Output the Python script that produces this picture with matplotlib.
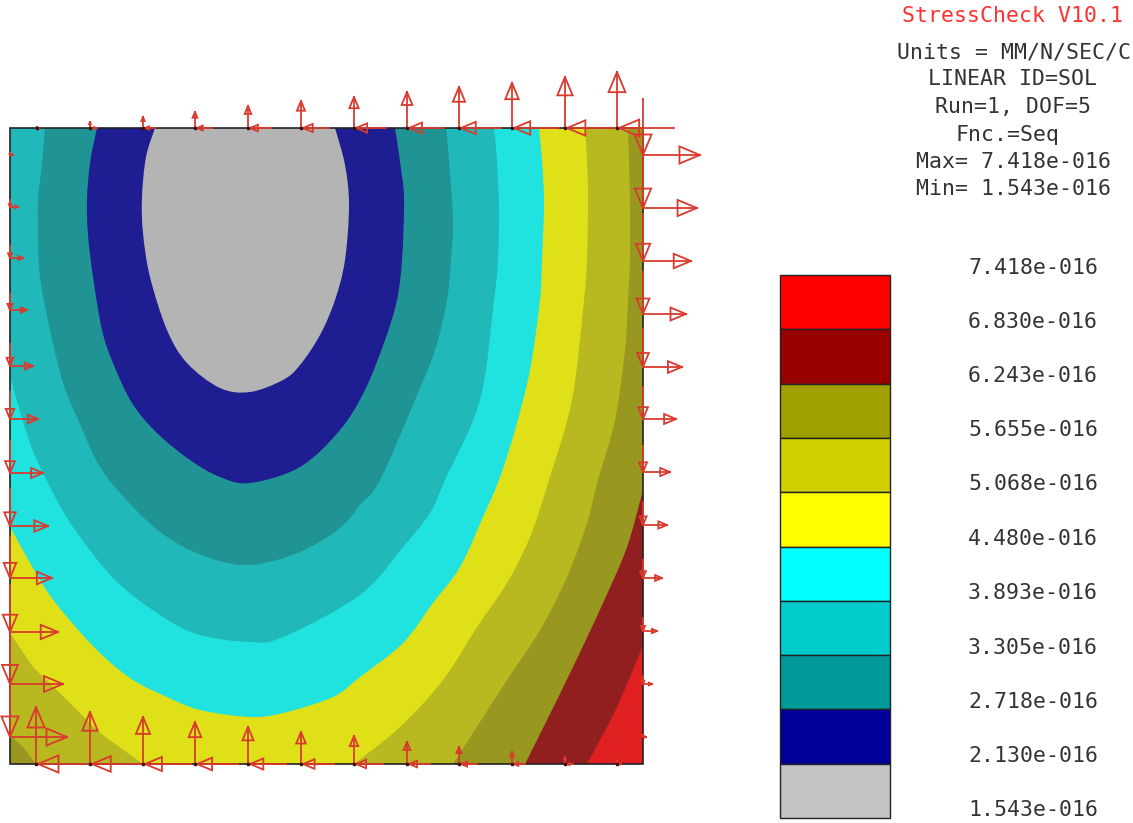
from matplotlib import pyplot as plt
from matplotlib.patches import PathPatch, Rectangle
from matplotlib.path import Path

# plate outline, in picture pixels
plate_x = [10, 643, 643, 10]
plate_y = [128, 128, 764, 764]

# contour lines, each band is the curve plus the plate corners it wraps round
red_x = [643, 617, 587]
red_y = [645, 707, 764]
darkred_x = [643, 627, 603, 573, 547, 525]
darkred_y = [490, 547, 603, 667, 720, 764]
olive2_x = [628, 630, 630, 628, 625, 615, 598, 587, 567, 540, 507, 480, 453]
olive2_y = [128, 200, 260, 300, 350, 420, 480, 523, 577, 630, 680, 722, 764]
olive2_corner_x = [36, 23, 10]
olive2_corner_y = [764, 747, 735]
olive1_x = [585, 587, 588, 587, 584, 572, 549, 530, 507, 477, 443, 400, 354]
olive1_y = [128, 160, 200, 260, 300, 400, 480, 537, 583, 627, 680, 727, 764]
olive1_corner_x = [143, 100, 67, 33, 10]
olive1_corner_y = [764, 733, 700, 667, 633]
yellow_x = [539, 542, 544, 542, 540, 530, 515, 499, 483, 460, 433, 403, 360, 333, 283, 250, 200, 167, 133,
            100, 67, 43, 10]
yellow_y = [128, 160, 203, 260, 300, 370, 430, 480, 517, 567, 603, 643, 677, 697, 713, 717, 710, 697, 680,
            653, 617, 585, 527]
cyan_x = [494, 497, 499, 498, 494, 480, 445, 430, 403, 360, 283, 250, 200, 163, 115, 73, 50, 30, 10]
cyan_y = [128, 160, 210, 260, 300, 400, 480, 513, 547, 595, 637, 642, 635, 617, 580, 527, 487, 443, 377]
teal_x = [446, 449, 453, 451, 447, 435, 415, 380, 360, 340, 300, 250, 207, 167, 133, 100, 77, 63, 50, 40, 38, 38,
          42, 45]
teal_y = [128, 160, 220, 260, 300, 350, 400, 480, 505, 528, 552, 565, 557, 537, 507, 467, 417, 383, 330, 277, 235,
          200, 163, 128]
navy_x = [395, 403, 404, 402, 397, 385, 365, 340, 300, 250, 220, 190, 157, 132, 113, 102, 93, 88, 87, 90, 97]
navy_y = [128, 183, 210, 260, 300, 340, 390, 430, 467, 483, 477, 460, 433, 403, 363, 330, 277, 235, 200, 163, 128]
gray_x = [335, 345, 349, 345, 335, 320, 300, 283, 250, 220, 187, 167, 150, 143, 142, 146, 155]
gray_y = [128, 165, 205, 260, 300, 335, 365, 380, 392, 388, 363, 330, 277, 233, 197, 157, 128]

upper_left_x = [10, 10]
upper_left_y = [764, 128]
top_right_x = [643]
top_right_y = [128]

# (curve x, curve y, corner x, corner y, colour) painted from the largest region inwards
bands = [
    (red_x, red_y, upper_left_x + top_right_x, upper_left_y + top_right_y, '#921f20'),
    (darkred_x, darkred_y, upper_left_x + top_right_x, upper_left_y + top_right_y, '#989820'),
    (olive2_x, olive2_y, olive2_corner_x + [10], olive2_corner_y + [128], '#b8b820'),
    (olive1_x, olive1_y, olive1_corner_x + [10], olive1_corner_y + [128], '#e0e018'),
    (yellow_x, yellow_y, [10], [128], '#20e3e0'),
    (cyan_x, cyan_y, [10], [128], '#20b8b8'),
    (teal_x, teal_y, [], [], '#209494'),
    (navy_x, navy_y, [], [], '#1e1e92'),
    (gray_x, gray_y, [], [], '#b4b4b4'),
]

# nodes and load lengths along each edge
top_x = [37, 90, 143, 195, 248, 301, 354, 407, 459, 512, 565, 617]
top_len = [1, 6, 11, 16, 22, 27, 31, 36, 41, 45, 51, 56]
bottom_x = [36, 90, 143, 195, 248, 301, 354, 407, 459, 512, 565, 617]
bottom_len = [57, 52, 47, 42, 37, 32, 28, 22, 17, 12, 7, 3]
right_y = [155, 208, 261, 314, 367, 419, 472, 525, 578, 631, 684, 737]
right_len = [57, 54, 48, 43, 39, 33, 27, 24, 19, 14, 9, 3]
left_y = [155, 207, 258, 310, 366, 419, 473, 526, 578, 632, 684, 737]
left_len = [3, 8, 13, 17, 23, 28, 33, 38, 42, 48, 53, 57]

# legend
legend_levels = ['7.418e-016', '6.830e-016', '6.243e-016', '5.655e-016', '5.068e-016', '4.480e-016',
                 '3.893e-016', '3.305e-016', '2.718e-016', '2.130e-016', '1.543e-016']
legend_colors = ['#ff0000', '#990000', '#9f9f00', '#d0d000', '#ffff00', '#00ffff', '#00cccc', '#009999',
                 '#000099', '#c4c4c4']
legend_edges = [275, 329, 384, 438, 492, 547, 601, 655, 709, 764, 818]
legend_label_y = [268, 322, 376, 430, 484, 539, 593, 648, 702, 756, 810]

header = ['Units = MM/N/SEC/C', 'LINEAR ID=SOL', 'Run=1, DOF=5', 'Fnc.=Seq', 'Max= 7.418e-016', 'Min= 1.543e-016']
header_x = [1014, 1013, 1013, 1007, 1013, 1013]
header_y = [52, 79, 107, 135, 162, 189]

arrow_color = '#d93a2e'


def band_path(cx, cy, kx, ky):
    # smooth bezier through the contour points, straight lines round the plate corners
    n = len(cx)
    verts = [(cx[0], cy[0])]
    codes = [Path.MOVETO]
    for i in range(n - 1):
        a = max(i - 1, 0)
        b = min(i + 2, n - 1)
        verts.append((cx[i] + (cx[i + 1] - cx[a]) / 6, cy[i] + (cy[i + 1] - cy[a]) / 6))
        verts.append((cx[i + 1] - (cx[b] - cx[i]) / 6, cy[i + 1] - (cy[b] - cy[i]) / 6))
        verts.append((cx[i + 1], cy[i + 1]))
        codes += [Path.CURVE4, Path.CURVE4, Path.CURVE4]
    for x, y in zip(kx, ky):
        verts.append((x, y))
        codes.append(Path.LINETO)
    verts.append((cx[0], cy[0]))
    codes.append(Path.CLOSEPOLY)
    return Path(verts, codes)


def arrow(ax, x, y, dx, dy, length):
    # (x, y) is the tip, the shaft runs back along the direction dx, dy, open triangle for a head
    tail_x = x - dx * length
    tail_y = y - dy * length
    ax.plot([tail_x, x], [tail_y, y], color=arrow_color, lw=1.3, zorder=5, solid_capstyle='butt')
    head = 0.36 * length
    half = 0.15 * length
    base_x = x - dx * head
    base_y = y - dy * head
    hx = [x, base_x + dy * half, base_x - dy * half, x]
    hy = [y, base_y + dx * half, base_y - dx * half, y]
    ax.plot(hx, hy, color=arrow_color, lw=1.3, zorder=5, solid_joinstyle='miter')


fig = plt.figure(figsize=(11.33, 8.23), dpi=100)
ax = fig.add_axes([0, 0, 1, 1])
ax.set_xlim(0, 1133)
ax.set_ylim(823, 0)
ax.axis('off')

ax.fill(plate_x, plate_y, color='#e02020', lw=0, zorder=1)
for cx, cy, kx, ky, col in bands:
    ax.add_patch(PathPatch(band_path(cx, cy, kx, ky), facecolor=col, edgecolor='none', lw=0, zorder=2))
ax.fill(plate_x, plate_y, fill=False, edgecolor='#222222', lw=1.2, zorder=3)

# top and bottom edges: up and left, both starting at the node
for x, n in zip(top_x, top_len):
    arrow(ax, x, 128 - n, 0, -1, n)
    arrow(ax, x + 2, 128, -1, 0, n)
    ax.plot([x], [128], 's', color='#401010', ms=1.6, zorder=6)

for x, n in zip(bottom_x, bottom_len):
    arrow(ax, x, 764 - n, 0, -1, n)
    arrow(ax, x + 2, 764, -1, 0, n)
    ax.plot([x], [764], 's', color='#401010', ms=1.6, zorder=6)

# left and right edges: right and down
for y, n in zip(right_y, right_len):
    arrow(ax, 643 + n, y, 1, 0, n)
    arrow(ax, 643, y, 0, 1, n)

for y, n in zip(left_y, left_len):
    arrow(ax, 10 + n, y, 1, 0, n)
    arrow(ax, 10, y, 0, 1, n)

# legend boxes
for i, col in enumerate(legend_colors):
    ax.add_patch(Rectangle((780, legend_edges[i]), 110, legend_edges[i + 1] - legend_edges[i],
                           facecolor=col, edgecolor='#222222', lw=1.0, zorder=2))
for lab, y in zip(legend_levels, legend_label_y):
    ax.text(1033, y, lab, family='DejaVu Sans Mono', fontsize=15.5, color='#333333', ha='center', va='center')

ax.text(1013, 16, 'StressCheck V10.1', family='DejaVu Sans Mono', fontsize=15.5, color='#ff3030',
        ha='center', va='center')
for line, x, y in zip(header, header_x, header_y):
    ax.text(x, y, line, family='DejaVu Sans Mono', fontsize=15.5, color='#333333', ha='center', va='center')

fig.savefig('out.png', dpi=100)
